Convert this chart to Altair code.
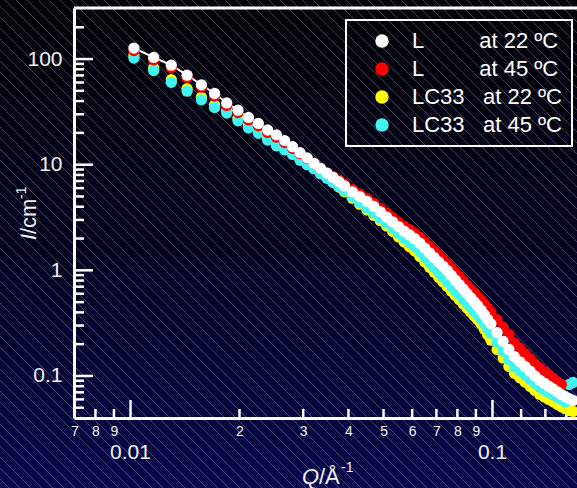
import altair as alt
import pandas as pd
import math

# ---------------- data ----------------
Q = [0.01022, 0.01159, 0.01296, 0.01433, 0.01570, 0.01707, 0.01844, 0.01981, 0.02118, 0.02255,
     0.02392, 0.02529, 0.02666, 0.02803, 0.02940, 0.03077, 0.03214, 0.03351, 0.03488, 0.03625,
     0.03762, 0.03899,
     0.041, 0.043, 0.045, 0.047, 0.049, 0.051, 0.053, 0.055, 0.057, 0.059,
     0.061, 0.063, 0.065, 0.067, 0.069, 0.071, 0.073, 0.075, 0.077, 0.079,
     0.081, 0.083, 0.085, 0.087, 0.089, 0.091, 0.093, 0.095, 0.097, 0.099,
     0.103, 0.107, 0.111, 0.115, 0.119, 0.123, 0.127, 0.131, 0.135, 0.139,
     0.143, 0.147, 0.151, 0.155, 0.159, 0.163, 0.167]

I_L_22 = [127.1, 103.6, 87.4, 70.4, 57.1, 47.2, 38.4, 32.8, 28.0, 24.6,
          21.3, 19.2, 16.9, 14.8, 13.0, 11.6, 10.3, 9.22, 8.33, 7.60,
          6.92, 6.31,
          5.535, 4.973, 4.499, 4.034, 3.578, 3.194, 2.876, 2.595, 2.348, 2.161,
          1.993, 1.807, 1.623, 1.462, 1.322, 1.199, 1.091, 0.994, 0.895, 0.807,
          0.732, 0.665, 0.605, 0.552, 0.505, 0.462, 0.421, 0.380, 0.343, 0.311,
          0.257, 0.213, 0.178, 0.152, 0.136, 0.123, 0.111, 0.100, 0.0912, 0.0855,
          0.0800, 0.0753, 0.0708, 0.0668, 0.0636, 0.0609, 0.0586]

I_L_45 = [120.4, 98.1, 82.8, 66.7, 54.1, 44.7, 36.4, 31.1, 26.5, 23.3,
          20.2, 18.2, 16.2, 14.3, 12.7, 11.5, 10.3, 9.22, 8.42, 7.77,
          7.15, 6.59,
          5.82, 5.29, 4.80, 4.32, 3.86, 3.48, 3.15, 2.86, 2.62, 2.43,
          2.25, 2.06, 1.86, 1.69, 1.54, 1.40, 1.27, 1.16, 1.05, 0.952,
          0.872, 0.792, 0.724, 0.665, 0.612, 0.566, 0.524, 0.480, 0.439, 0.404,
          0.341, 0.289, 0.247, 0.206, 0.183, 0.163, 0.146, 0.130, 0.119, 0.110,
          0.102, 0.0947, 0.0881, 0.0831]

I_LC33_22 = [107.9, 82.2, 63.7, 52.4, 43.4, 36.7, 32.5, 27.5, 23.5, 20.9,
             18.1, 15.9, 14.4, 13.0, 11.4, 10.2, 9.24, 8.22, 7.46, 6.80,
             6.14, 5.54,
             4.82, 4.23, 3.73, 3.31, 2.95, 2.63, 2.33, 2.07, 1.85, 1.67,
             1.52, 1.35, 1.20, 1.07, 0.960, 0.860, 0.777, 0.701, 0.635, 0.576,
             0.526, 0.480, 0.439, 0.403, 0.369, 0.340, 0.310, 0.277, 0.246, 0.218,
             0.178, 0.148, 0.123, 0.106, 0.0961, 0.0875, 0.0797, 0.0730, 0.0670, 0.0633,
             0.0600, 0.0569, 0.0539, 0.0512, 0.0490, 0.0471, 0.0461]

I_LC33_45 = [102.2, 77.8, 60.3, 49.6, 41.1, 34.8, 30.8, 26.0, 22.3, 19.8,
             17.1, 15.1, 13.8, 12.5, 11.0, 10.0, 9.14, 8.22, 7.46, 6.80,
             6.21, 5.66,
             4.962, 4.382, 3.895, 3.477, 3.118, 2.802, 2.501, 2.237, 2.015, 1.834,
             1.677, 1.507, 1.340, 1.193, 1.070, 0.959, 0.866, 0.781, 0.708, 0.642,
             0.586, 0.535, 0.489, 0.449, 0.411, 0.379, 0.346, 0.312, 0.281, 0.254,
             0.208, 0.172, 0.143, 0.123, 0.112, 0.102, 0.0929, 0.0851, 0.0781, 0.0738,
             0.0699, 0.0663, 0.0628, 0.0597, 0.0571, 0.0831, 0.0868]

NB = "\u00a0"
series_names = ["L" + NB * 9 + "at 22 ºC",
                "L" + NB * 9 + "at 45 ºC",
                "LC33" + NB * 3 + "at 22 ºC",
                "LC33" + NB * 3 + "at 45 ºC"]
series_colors = ["#ffffff", "#ff0000", "#ffff00", "#40f4f4"]

x_label_vals = [0.007, 0.008, 0.009, 0.02, 0.03, 0.04, 0.05, 0.06, 0.07, 0.08, 0.09]
x_major_vals = [0.01, 0.1]
x_major_text = ["0.01", "0.1"]
x_minor_ticks = [0.008, 0.009, 0.02, 0.03, 0.04, 0.05, 0.06, 0.07, 0.08, 0.09, 0.12, 0.14, 0.16]
y_major_vals = [0.1, 1, 10, 100]
y_minor_ticks = [0.05, 0.06, 0.07, 0.08, 0.09, 0.2, 0.3, 0.4, 0.5, 0.6, 0.7, 0.8, 0.9,
                 2, 3, 4, 5, 6, 7, 8, 9, 20, 30, 40, 50, 60, 70, 80, 90, 200]

# ---------------- build tables ----------------
rows = []
for name, vals, ordv in [(series_names[2], I_LC33_22, 0), (series_names[3], I_LC33_45, 1),
                         (series_names[1], I_L_45, 2), (series_names[0], I_L_22, 3)]:
    for q, v in zip(Q, vals):
        rows.append({"Q": q, "I": v, "series": name, "ord": ordv})
df = pd.DataFrame(rows)
df_line = pd.DataFrame({"Q": Q, "I": I_L_22})

W, H = 503, 410
XD = [0.00698, 0.1712]
YD = [0.04, 304.3]
FONT = "Liberation Sans"
TXT = "#f2f2f2"

xscale = alt.Scale(type="log", domain=XD, nice=False)
yscale = alt.Scale(type="log", domain=YD, nice=False)

x_axis = alt.Axis(values=x_label_vals,
                  labelExpr="format(datum.value / pow(10, floor(log(datum.value) / LN10 + 1e-9)), '.0f')",
                  ticks=False, tickSize=0, domainColor="white", domainWidth=3, labelColor=TXT,
                  labelFont=FONT, labelFontSize=14, labelPadding=6, labelFlush=False,
                  labelOverlap=False, title=None, grid=False, zindex=1)
y_axis = alt.Axis(values=y_major_vals, format="~g", ticks=False, tickSize=0, domainColor="white",
                  domainWidth=3, labelColor=TXT, labelFont=FONT, labelFontSize=21, labelPadding=12,
                  labelOverlap=False, title=None, grid=False, zindex=1)


def X(field):
    return alt.X(field, scale=xscale, axis=x_axis)


def Y(field):
    return alt.Y(field, scale=yscale, axis=y_axis)


one = alt.Data(values=[{}])

# background gradient
bg = alt.Chart(one).mark_rect(
    color=alt.LinearGradient(gradient="linear", x1=0, x2=0, y1=0, y2=1,
                             stops=[alt.GradientStop(color="#020207", offset=0),
                                    alt.GradientStop(color="#03031f", offset=0.5),
                                    alt.GradientStop(color="#07074c", offset=1)])
).encode(x=alt.value(-74), x2=alt.value(W), y=alt.value(-8), y2=alt.value(480))

# diagonal hatching (background texture)
K = math.log10(XD[1] / XD[0]) / W
hatch = alt.Chart(pd.DataFrame({"c": list(range(-490, 600, 11))})).transform_calculate(
    xa=f"{XD[0]} * pow(10, (datum.c - 74) * {K})",
    xb=f"{XD[0]} * pow(10, (datum.c + 414) * {K})",
).mark_rule(color="white", strokeWidth=1, opacity=0.25).encode(
    x=X("xa:Q"), x2="xb:Q", y=alt.value(-8), y2=alt.value(480))

# inward ticks
xt_minor = alt.Chart(pd.DataFrame({"v": x_minor_ticks})).mark_rule(color="white", strokeWidth=2.5).encode(
    x=X("v:Q"), y=alt.value(H), y2=alt.value(H - 9))
xt_major = alt.Chart(pd.DataFrame({"v": x_major_vals})).mark_rule(color="white", strokeWidth=2.5).encode(
    x=X("v:Q"), y=alt.value(H), y2=alt.value(H - 18))
yt_minor = alt.Chart(pd.DataFrame({"v": y_minor_ticks})).mark_rule(color="white", strokeWidth=2.5).encode(
    y=Y("v:Q"), x=alt.value(0), x2=alt.value(10))
yt_major = alt.Chart(pd.DataFrame({"v": y_major_vals})).mark_rule(color="white", strokeWidth=2.5).encode(
    y=Y("v:Q"), x=alt.value(0), x2=alt.value(19))
top_border = alt.Chart(one).mark_rule(color="white", strokeWidth=3).encode(
    x=alt.value(0), x2=alt.value(W + 5), y=alt.value(0))

fit_line = alt.Chart(df_line).mark_line(color="white", strokeWidth=2).encode(x=X("Q:Q"), y=Y("I:Q"))

points = alt.Chart(df).mark_circle(size=127, opacity=1).encode(
    x=X("Q:Q"),
    y=Y("I:Q"),
    color=alt.Color("series:N", scale=alt.Scale(domain=series_names, range=series_colors),
                    legend=alt.Legend(title=None, orient="none", legendX=272, legendY=12,
                                      direction="vertical", padding=10, rowPadding=6,
                                      symbolOffset=15, labelOffset=19, symbolSize=180,
                                      symbolType="circle", symbolStrokeWidth=0,
                                      labelFontSize=22, labelFont=FONT, labelColor="white",
                                      strokeColor="white", labelLimit=300)),
    order=alt.Order("ord:Q"),
)

x_major_lbl = alt.Chart(pd.DataFrame({"v": x_major_vals, "t": x_major_text})).mark_text(
    font=FONT, fontSize=21, color=TXT, baseline="middle", align="center").encode(
    x=X("v:Q"), y=alt.value(445), text="t:N")


def txt(s, x, y, size=22, style="normal", angle=0):
    return alt.Chart(one).mark_text(text=s, font=FONT, fontSize=size, fontStyle=style, color=TXT,
                                    align="left", baseline="alphabetic", angle=angle).encode(
        x=alt.value(x), y=alt.value(y))


titles = [
    txt("Q", 228, 476, style="italic"),
    txt("/Å", 245, 476),
    txt("-1", 267, 464, size=14),
    txt("I", -38, 232, style="italic", angle=270),
    txt("/cm", -38, 226, angle=270),
    txt("-1", -48, 191, size=14, angle=270),
]

chart = alt.layer(bg, hatch, xt_minor, xt_major, yt_minor, yt_major, top_border, fit_line, points,
                  x_major_lbl, *titles).properties(
    width=W, height=H,
    autosize=alt.AutoSizeParams(type="none"),
    padding={"left": 74, "top": 8, "right": 0, "bottom": 70},
    background="black",
).configure_view(stroke=None).configure_legend(strokeWidth=2)

chart.save("out.html", embed_options={"renderer": "svg", "actions": False})
